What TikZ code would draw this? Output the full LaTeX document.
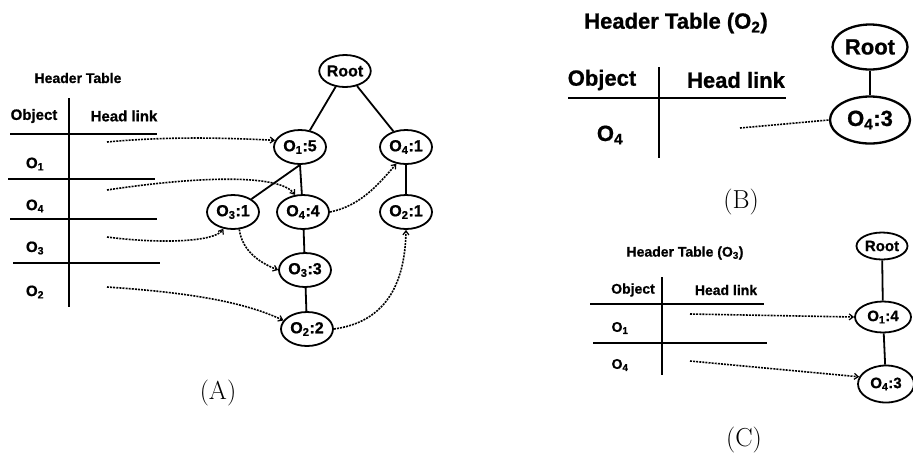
\documentclass[tikz,border=0pt]{standalone}
\usepackage{fontspec}
\newfontfamily\arial{Liberation Sans}[BoldFeatures={FakeBold=0.8}]
\usetikzlibrary{shapes.geometric,arrows.meta}
\begin{document}
\begin{tikzpicture}[x=1pt,y=-1pt,
  lbl/.style={font=\arial\bfseries\fontsize{#1}{#1}\selectfont, inner sep=0pt},
  panelcap/.style={font=\fontsize{26}{26}\selectfont, inner sep=0pt},
  tnode/.style={ellipse, draw, line width=1.8pt, inner sep=0pt},
  nA/.style={tnode, minimum width=52pt, minimum height=34pt, font=\arial\bfseries\fontsize{16}{16}\selectfont},
  nB/.style={tnode, line width=2.3pt, minimum width=80pt, minimum height=47pt, font=\arial\bfseries\fontsize{22}{22}\selectfont},
  nC/.style={tnode, minimum width=56pt, minimum height=31pt, font=\arial\bfseries\fontsize{15}{15}\selectfont},
  rule/.style={line width=2pt},
  edge/.style={line width=1.8pt},
  dlink/.style={line width=1.6pt, dash pattern=on 2pt off 1.1pt, -{Straight Barb[length=4pt,width=6pt,line width=1.2pt]}},
  dline/.style={line width=1.6pt, dash pattern=on 2pt off 1.1pt}
]
\useasboundingbox (0,0) rectangle (913,459);

% ---------------- (A) ----------------
\node[lbl=14] (htA) at (78,78) {Header Table};
\node[lbl=15] (objA) at (34,116) {Object};
\node[lbl=15] (hlA) at (124,116) {Head link};
\draw[rule] (69,98) -- (69,307);
\draw[rule] (10,134) -- (157,134);
\draw[rule] (8,179) -- (155,179);
\draw[rule] (10,219) -- (157,219);
\draw[line width=2.4pt] (13,263) -- (160,263);
\node[lbl=15] (rA1) at (35,164) {O\textsubscript{1}};
\node[lbl=15] (rA4) at (35,206) {O\textsubscript{4}};
\node[lbl=15] (rA3) at (35,248) {O\textsubscript{3}};
\node[lbl=15] (rA2) at (35,292) {O\textsubscript{2}};

\node[nA, minimum width=48pt, minimum height=32pt] (rootA) at (345,71) {Root};
\node[nA] (a15) at (300,147) {O\textsubscript{1}:5};
\node[nA] (a41) at (406,147) {O\textsubscript{4}:1};
\node[nA] (a31) at (233,212) {O\textsubscript{3}:1};
\node[nA] (a44) at (303,212) {O\textsubscript{4}:4};
\node[nA] (a21) at (406,212) {O\textsubscript{2}:1};
\node[nA] (a33) at (305,270) {O\textsubscript{3}:3};
\node[nA] (a22) at (307,329) {O\textsubscript{2}:2};

\draw[edge] (rootA) -- (a15);
\draw[edge] (rootA) -- (a41);
\draw[edge] (a15.south) -- (a31);
\draw[edge] (a15.south) -- (a44);
\draw[edge] (a44) -- (a33);
\draw[edge] (a33) -- (a22);
\draw[edge] (a41) -- (a21);

\coordinate (sA1) at (107,142);
\coordinate (sA4) at (107,190);
\coordinate (sA3) at (107,237);
\coordinate (sA2) at (107,287);
\draw[dlink] (sA1) .. controls (170,136) and (230,138) .. (a15.165);
\draw[dlink] (sA4) .. controls (200,176) and (280,174) .. (a44.115);
\draw[dlink] (sA3) .. controls (160,244) and (215,242) .. (a31.240);
\draw[dlink] (sA2) .. controls (180,292) and (240,300) .. (a22.160);
\draw[dlink] (a31.290) .. controls (242,250) and (258,262) .. (a33.west);
\draw[dlink] (a44.east) .. controls (360,206) and (378,185) .. (a41.240);
\draw[dlink] (a22.east) .. controls (385,322) and (405,285) .. (a21.south);

\node[panelcap] (capA) at (218,393) {(A)};

% ---------------- (B) ----------------
\node[lbl=22] (htB) at (676,23) {Header Table (O\textsubscript{2})};
\node[lbl=22] (objB) at (602,80) {Object};
\node[lbl=22] (hlB) at (736,80) {Head link};
\draw[rule] (659,67) -- (659,158);
\draw[rule] (568,98) -- (786,98);
\node[lbl=22] (rB4) at (610,135) {O\textsubscript{4}};

\node[nB, minimum width=75pt, minimum height=45pt] (rootB) at (870,47) {Root};
\node[nB] (b43) at (870,120) {O\textsubscript{4}:3};
\draw[edge, line width=2.3pt] (rootB) -- (b43);
\coordinate (sB4) at (740,128);
\draw[dline] (sB4) -- (b43.west);

\node[panelcap] (capB) at (741,202) {(B)};

% ---------------- (C) ----------------
\node[lbl=14] (htC) at (685,253) {Header Table (O\textsubscript{3})};
\node[lbl=14] (objC) at (633,290) {Object};
\node[lbl=14] (hlC) at (726,290) {Head link};
\draw[rule] (662,277) -- (662,375);
\draw[rule] (590,304) -- (764,304);
\draw[rule] (593,343) -- (767,343);
\node[lbl=14] (rC1) at (620,328) {O\textsubscript{1}};
\node[lbl=14] (rC4) at (620,365) {O\textsubscript{4}};

\node[nC, minimum width=51pt, minimum height=27pt] (rootC) at (882,246) {Root};
\node[nC] (c14) at (883,317) {O\textsubscript{1}:4};
\node[nC, minimum height=37pt] (c43) at (886,384) {O\textsubscript{4}:3};
\draw[edge] (rootC) -- (c14);
\draw[edge] (c14) -- (c43);
\coordinate (sC1) at (690,314);
\coordinate (sC4) at (690,361);
\draw[dlink] (sC1) -- (c14.west);
\draw[dlink] (sC4) -- (c43.165);

\node[panelcap] (capC) at (744,440) {(C)};
\end{tikzpicture}
\end{document}
